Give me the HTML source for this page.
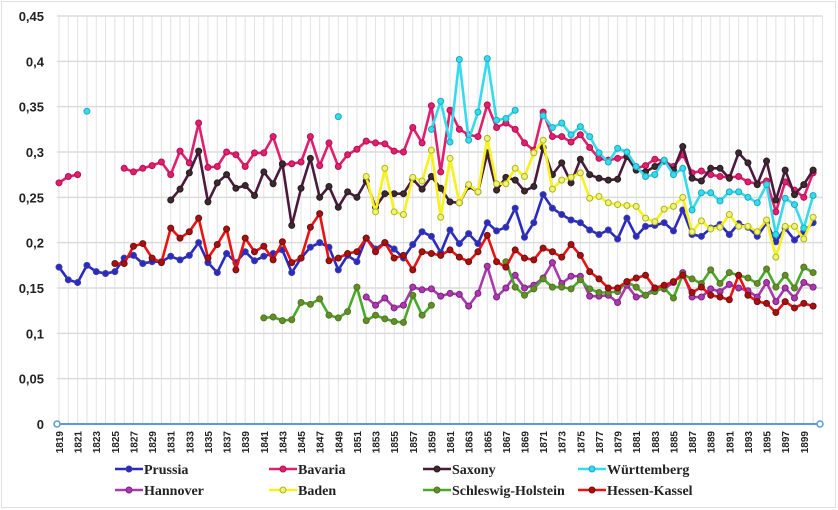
<!DOCTYPE html>
<html><head><meta charset="utf-8"><style>
html,body{margin:0;padding:0;background:#fff;}
svg{display:block;}
</style></head><body>
<svg id="chart" width="838" height="510" viewBox="0 0 838 510" xmlns="http://www.w3.org/2000/svg">
<rect x="1.5" y="1.5" width="834" height="506" fill="#fff" stroke="#e0e0e0"/>
<g id="grid"></g>
<g id="yaxis"></g>
<g id="xaxis"></g>
<g id="series"></g>
<g id="legend"></g>
</svg>
<script>
const firstYear = 1819;
const lastYear = 1900;
const yTicks = [0, 0.05, 0.1, 0.15, 0.2, 0.25, 0.3, 0.35, 0.4, 0.45];
const yTickLabels = ["0","0,05","0,1","0,15","0,2","0,25","0,3","0,35","0,4","0,45"];

const prussiaStart = 1819;
const prussiaValues = [.173,.159,.156,.175,.168,.166,.168,.183,.186,.177,.179,.179,.185,.181,.186,.2,.178,.167,.188,.178,.19,.18,.185,.188,.192,.167,.183,.195,.2,.195,.17,.186,.179,.205,.193,.2,.193,.183,.198,.212,.207,.189,.214,.199,.21,.199,.222,.213,.217,.238,.206,.222,.253,.238,.231,.225,.222,.214,.209,.214,.204,.227,.207,.218,.219,.222,.213,.236,.209,.207,.216,.22,.209,.221,.217,.207,.222,.201,.216,.203,.212,.222];
const bavariaStart = 1819;
const bavariaValues = [.266,.273,.275,null,null,null,null,.282,.278,.282,.285,.289,.275,.301,.288,.332,.283,.284,.3,.297,.284,.299,.299,.317,.286,.287,.289,.317,.285,.31,.284,.297,.303,.312,.31,.309,.301,.3,.327,.31,.351,.278,.346,.325,.319,.317,.352,.327,.332,.325,.31,.302,.344,.317,.317,.311,.319,.305,.293,.291,.293,.295,.282,.285,.292,.29,.284,.297,.277,.279,.275,.273,.272,.273,.267,.265,.268,.234,.267,.258,.25,.277];
const saxonyStart = 1831;
const saxonyValues = [.247,.259,.277,.301,.245,.266,.275,.26,.263,.252,.278,.265,.287,.219,.26,.293,.25,.262,.239,.256,.25,.268,.239,.254,.254,.254,.27,.259,.273,.26,.245,.244,.262,.256,.299,.258,.272,.269,.257,.262,.305,.275,.288,.266,.292,.275,.271,.269,.27,.295,.28,.278,.284,.29,.28,.306,.271,.268,.282,.282,.271,.299,.288,.264,.29,.247,.28,.253,.264,.28];
const wurttStart = 1822;
const wurttValues = [.345,null,null,null,null,null,null,null,null,null,null,null,null,null,null,null,null,null,null,null,null,null,null,null,null,null,null,.339,null,null,null,null,null,null,null,null,null,.325,.356,.311,.402,.313,.344,.403,.335,.337,.346,null,null,.34,.327,.332,.319,.328,.317,.299,.289,.304,.3,.284,.273,.275,.291,.275,.282,.236,.255,.255,.246,.256,.256,.25,.244,.264,.209,.249,.242,.216,.252];
const hannoverStart = 1852;
const hannoverValues = [.14,.131,.139,.128,.131,.151,.148,.149,.141,.144,.143,.13,.144,.174,.14,.15,.164,.15,.153,.161,.178,.155,.163,.163,.141,.141,.142,.134,.153,.14,.142,.15,.149,.156,.167,.14,.14,.149,.146,.154,.15,.147,.14,.156,.135,.15,.139,.156,.151];
const badenStart = 1852;
const badenValues = [.273,.234,.282,.234,.231,.272,.268,.302,.228,.293,.244,.264,.256,.315,.265,.265,.282,.273,.299,.313,.259,.269,.272,.277,.249,.251,.244,.242,.241,.24,.227,.223,.237,.24,.25,.212,.224,.215,.217,.231,.218,.218,.212,.225,.184,.218,.218,.204,.228];
const schleswigStart = 1841;
const schleswigValues = [.117,.118,.114,.115,.134,.132,.138,.12,.117,.124,.151,.114,.12,.116,.113,.112,.142,.12,.131,null,null,null,null,null,null,null,.179,.151,.142,.149,.16,.151,.151,.149,.159,.149,.145,.145,.146,.157,.151,.142,.146,.15,.139,.165,.16,.155,.17,.155,.167,.164,.161,.155,.171,.151,.164,.15,.173,.167];
const hessenStart = 1825;
const hessenValues = [.177,.177,.196,.199,.183,.178,.216,.205,.212,.227,.183,.198,.215,.17,.205,.19,.196,.181,.201,.178,.183,.217,.232,.18,.183,.188,.19,.205,.19,.2,.183,.186,.17,.19,.188,.186,.192,.184,.179,.19,.208,.179,.173,.192,.183,.181,.194,.19,.184,.198,.186,.168,.16,.15,.15,.157,.161,.164,.15,.153,.157,.164,.145,.151,.142,.14,.137,.164,.142,.135,.133,.123,.135,.128,.133,.13];

const NS = "http://www.w3.org/2000/svg";
const x0 = 59, yearStep = 9.31, y0 = 424, yScale = 906.7;
function xPos(year){ return x0 + (year - firstYear) * yearStep; }
function yPos(v){ return y0 - v * yScale; }
function mk(tag, attrs, parent){ const e = document.createElementNS(NS, tag); for (const k in attrs) e.setAttribute(k, attrs[k]); parent.appendChild(e); return e; }

const grid = document.getElementById('grid');
for (let yr = firstYear; yr <= lastYear + 1; yr++) {
  const l = mk('line', {x1:xPos(yr), x2:xPos(yr), y1:yPos(0.45), y2:y0, stroke:'#e2e2e2', 'stroke-width':1}, grid);
  
  
}
const yax = document.getElementById('yaxis');
yTicks.forEach((t, i) => {
  const l = mk('line', {x1:57, x2:xPos(lastYear + 1), y1:yPos(t), y2:yPos(t), stroke:'#dcdcdc', 'stroke-width':1.5}, grid);
  
  
  const tx = mk('text', {x:44, y:yPos(t) + 5, 'text-anchor':'end', 'font-family':'"Liberation Sans", sans-serif', 'font-size':13, 'font-weight':'bold', fill:'#222'}, yax);
  tx.textContent = yTickLabels[i];
  
  
});
const xax = document.getElementById('xaxis');
const base = mk('line', {x1:57, x2:820, y1:y0, y2:y0, stroke:'#5b9bd5', 'stroke-width':2}, xax);


[57, 820].forEach(cx => {
  const c = mk('circle', {cx:cx, cy:y0, r:3, fill:'#fff', stroke:'#5b9bd5', 'stroke-width':1.5}, xax);
  
  
});
for (let yr = firstYear; yr <= lastYear; yr += 2) {
  const xx = xPos(yr) + 4;
  const t = mk('text', {x:0, y:0, transform:`translate(${xx},431) rotate(-90)`, 'text-anchor':'end', 'font-family':'"Liberation Sans", sans-serif', 'font-size':10, 'font-weight':'bold', fill:'#222'}, xax);
  t.textContent = yr;
  
  
}

const seriesDefs = [
  {name:'Prussia', start:prussiaStart, vals:prussiaValues, line:'#2a2ac0', fill:'#2a2ac0', stroke:'#4040a0'},
  {name:'Bavaria', start:bavariaStart, vals:bavariaValues, line:'#e0206e', fill:'#e0206e', stroke:'#b01050'},
  {name:'Saxony', start:saxonyStart, vals:saxonyValues, line:'#4a1a3c', fill:'#3a2a30', stroke:'#2a1a20'},
  {name:'Württemberg', start:wurttStart, vals:wurttValues, line:'#33dbec', fill:'#33dbec', stroke:'#20a8c0'},
  {name:'Hannover', start:hannoverStart, vals:hannoverValues, line:'#a83aae', fill:'#a83aae', stroke:'#802080'},
  {name:'Baden', start:badenStart, vals:badenValues, line:'#f7f21a', fill:'#f2f07a', stroke:'#a8b818'},
  {name:'Schleswig-Holstein', start:schleswigStart, vals:schleswigValues, line:'#4aaa28', fill:'#6a8a2a', stroke:'#4a7a20'},
  {name:'Hessen-Kassel', start:hessenStart, vals:hessenValues, line:'#ec1212', fill:'#a81010', stroke:'#701010'}
];
const sg = document.getElementById('series');
seriesDefs.forEach(s => {
  const g = mk('g', {}, sg);
  
  
  let d = '', pen = false;
  s.vals.forEach((v, i) => {
    if (v === null) { pen = false; return; }
    d += (pen ? 'L' : 'M') + xPos(s.start + i).toFixed(1) + ' ' + yPos(v).toFixed(1) + ' ';
    pen = true;
  });
  const p = mk('path', {d:d, fill:'none', stroke:s.line, 'stroke-width':2.6, 'stroke-linejoin':'round'}, g);
  
  
  s.vals.forEach((v, i) => {
    if (v === null) return;
    const c = mk('circle', {cx:xPos(s.start + i), cy:yPos(v), r:3, fill:s.fill, stroke:s.stroke, 'stroke-width':1}, g);
    
    
  });
});

const lg = document.getElementById('legend');
const legendCols = [115, 269, 423, 578];
seriesDefs.forEach((s, i) => {
  const lx = legendCols[i % 4], ly = i < 4 ? 469 : 490;
  const g = mk('g', {}, lg);
  
  
  mk('line', {x1:lx, x2:lx + 28, y1:ly, y2:ly, stroke:s.line, 'stroke-width':2.6}, g);
  mk('circle', {cx:lx + 14, cy:ly, r:3, fill:s.fill, stroke:s.stroke, 'stroke-width':1}, g);
  const t = mk('text', {x:lx + 29, y:ly + 5, 'font-family':'"Liberation Serif", serif', 'font-size':14, 'font-weight':'bold', fill:'#222'}, g);
  t.textContent = s.name;
  
  
});
</script>
</body></html>
